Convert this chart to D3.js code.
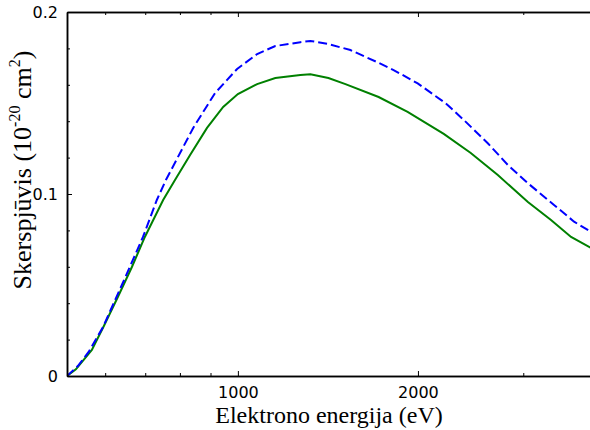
<!DOCTYPE html>
<html>
<head>
<meta charset="utf-8">
<script src="https://cdn.jsdelivr.net/npm/d3@7"></script>
<style>
  body { margin: 0; background: #fff; }
  svg { display: block; }
  .tick text { font-family: "DejaVu Sans", sans-serif; font-size: 16px; fill: #000; }
  .domain, .tick line { stroke: #000; }
</style>
</head>
<body>
<div class="chart"></div>
<script>
// energies in eV, cross sections in 1e-20 cm^2
var greenEnergy = [518, 536, 570, 597, 630, 665, 699, 750, 785, 832, 888, 945, 1000, 1077, 1155, 1272, 1322, 1417, 1513, 1719, 1922, 2209, 2451, 2720, 3054, 3338, 3606, 3896];
var greenValue  = [0, 0.0037, 0.0143, 0.0275, 0.0434, 0.0599, 0.0764, 0.0967, 0.1077, 0.1214, 0.1363, 0.1478, 0.1549, 0.1604, 0.1637, 0.1654, 0.1658, 0.1637, 0.1604, 0.1533, 0.1451, 0.1330, 0.1225, 0.1104, 0.0956, 0.0857, 0.0764, 0.0703];

var blueEnergy = [518, 540, 563, 595, 642, 694, 732, 758, 842, 916, 997, 1077, 1155, 1272, 1322, 1417, 1542, 1719, 1821, 1998, 2226, 2386, 2617, 2828, 3054, 3377, 3648, 3896];
var blueValue  = [0, 0.0055, 0.0132, 0.0269, 0.0511, 0.0764, 0.0967, 0.1077, 0.1363, 0.1555, 0.1687, 0.1769, 0.1813, 0.1834, 0.1841, 0.1824, 0.1791, 0.1721, 0.1681, 0.1608, 0.1498, 0.1407, 0.1279, 0.1159, 0.1059, 0.0940, 0.0848, 0.0791];

var xMajor = [1000, 2000];
var xMinor = [600, 700, 800, 900, 3000];
var yMajor = [0, 0.1, 0.2];
var yMinor = [0.02, 0.04, 0.06, 0.08, 0.12, 0.14, 0.16, 0.18];

var width = 590, height = 430;
var m = { left: 67, top: 12, bottom: 376, right: 598 };

var svg = d3.select(".chart")
    .append("svg")
    .attr("width", width)
    .attr("height", height);

var x = d3.scaleLog()
    .domain([518, 4000])
    .range([m.left, m.right]);

var y = d3.scaleLinear()
    .domain([0, 0.2])
    .range([m.bottom, m.top]);

svg.append("clipPath").attr("id", "plotClip")
  .append("rect")
    .attr("x", m.left).attr("y", m.top)
    .attr("width", m.right - m.left).attr("height", m.bottom - m.top);

// curves
function series(en, val) {
    return en.map(function(d, i) { return { e: d, v: val[i] }; });
}

var line = d3.line()
    .x(function(d) { return x(d.e); })
    .y(function(d) { return y(d.v); });

var curves = svg.append("g").attr("clip-path", "url(#plotClip)");

curves.append("path")
    .datum(series(greenEnergy, greenValue))
    .attr("d", line)
    .attr("fill", "none")
    .attr("stroke", "#008000")
    .attr("stroke-width", 2);

curves.append("path")
    .datum(series(blueEnergy, blueValue))
    .attr("d", line)
    .attr("fill", "none")
    .attr("stroke", "#0000ff")
    .attr("stroke-width", 2)
    .attr("stroke-dasharray", "9,4");

// axes
function styleAxis(g) {
    g.select(".domain").attr("stroke-width", 1.5);
    g.selectAll(".tick line").attr("stroke-width", 1);
}

svg.append("g")
    .attr("transform", "translate(0," + m.bottom + ")")
    .call(d3.axisBottom(x).tickValues(xMinor).tickSize(-3).tickSizeOuter(0).tickFormat(""))
    .call(styleAxis);

svg.append("g")
    .attr("transform", "translate(0," + m.bottom + ")")
    .call(d3.axisBottom(x).tickValues(xMajor).tickSize(-5).tickSizeOuter(0).tickPadding(11).tickFormat(d3.format("d")))
    .call(styleAxis);

svg.append("g")
    .attr("transform", "translate(0," + m.top + ")")
    .call(d3.axisTop(x).tickValues(xMinor).tickSize(-3).tickSizeOuter(0).tickFormat(""))
    .call(styleAxis);

svg.append("g")
    .attr("transform", "translate(0," + m.top + ")")
    .call(d3.axisTop(x).tickValues(xMajor).tickSize(-5).tickSizeOuter(0).tickFormat(""))
    .call(styleAxis);

svg.append("g")
    .attr("transform", "translate(" + m.left + ",0)")
    .call(d3.axisLeft(y).tickValues(yMinor).tickSize(-3).tickSizeOuter(0).tickFormat(""))
    .call(styleAxis);

svg.append("g")
    .attr("transform", "translate(" + m.left + ",0)")
    .call(d3.axisLeft(y).tickValues(yMajor).tickSize(-5).tickSizeOuter(0).tickPadding(9)
        .tickFormat(function(d) { return d === 0 ? "0" : d3.format(".1f")(d); }))
    .call(styleAxis);

// labels
svg.append("text")
    .attr("x", 329)
    .attr("y", 423)
    .attr("text-anchor", "middle")
    .style("font-family", "'Liberation Serif', serif")
    .style("font-size", "24px")
    .text("Elektrono energija (eV)");

var ylab = svg.append("text")
    .attr("transform", "translate(31,170) rotate(-90)")
    .attr("text-anchor", "middle")
    .style("font-family", "'Liberation Serif', serif")
    .style("font-size", "26px");
ylab.append("tspan").text("Skerspjūvis (10");
ylab.append("tspan").attr("dy", -11).style("font-size", "16px").text("-20");
ylab.append("tspan").attr("dy", 11).text(" cm");
ylab.append("tspan").attr("dy", -11).style("font-size", "16px").text("2");
ylab.append("tspan").attr("dy", 11).text(")");
</script>
</body>
</html>
